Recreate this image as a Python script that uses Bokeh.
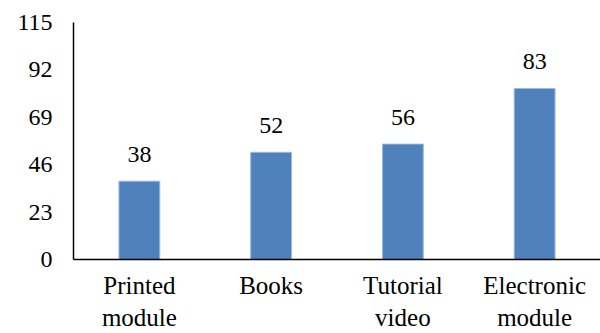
from bokeh.plotting import figure
from bokeh.models import ColumnDataSource, FixedTicker, Range1d, FactorRange
from bokeh.core.properties import value
from bokeh.embed import file_html
from bokeh.resources import INLINE

categories = ["Printed\nmodule", "Books", "Tutorial\nvideo", "Electronic\nmodule"]
values = [38, 52, 56, 83]
y_ticks = [0, 23, 46, 69, 92, 115]

FONT = "'Liberation Serif', serif"

source = ColumnDataSource(data=dict(cat=categories, val=values, lbl=[str(v) for v in values]))

p = figure(width=600, height=333, x_range=FactorRange(*categories, range_padding=0),
           y_range=Range1d(0, 115), output_backend="svg", toolbar_location=None,
           min_border_left=73, min_border_right=0, min_border_top=22, min_border_bottom=73)
p.x_range.range_padding = 0
p.vbar(x="cat", top="val", width=0.31, source=source, fill_color="#4F81BD",
       line_color="#9DB8DC", line_width=1)
p.text(x="cat", y="val", text="lbl", source=source, text_align="center",
       text_baseline="bottom", y_offset=-19, text_font=value(FONT),
       text_font_size="24px", text_color="black")

p.outline_line_color = None
p.xgrid.grid_line_color = None
p.ygrid.grid_line_color = None

p.yaxis.ticker = FixedTicker(ticks=y_ticks)
p.yaxis.major_tick_line_color = None
p.yaxis.minor_tick_line_color = None
p.yaxis.major_tick_out = 0
p.yaxis.major_tick_in = 0
p.yaxis.major_label_standoff = 21
p.yaxis.axis_line_color = "black"
p.yaxis.axis_line_width = 1.5

p.xaxis.major_tick_line_color = None
p.xaxis.major_tick_out = 0
p.xaxis.major_tick_in = 0
p.xaxis.major_label_standoff = 12
p.xaxis.axis_line_color = "black"
p.xaxis.axis_line_width = 1.5

p.yaxis.major_label_text_font_size = "24px"
p.xaxis.major_label_text_font_size = "25px"
for ax in (p.xaxis, p.yaxis):
    ax.major_label_text_font = FONT
    ax.major_label_text_color = "black"

open("out.html", "w").write(file_html(p, INLINE))
